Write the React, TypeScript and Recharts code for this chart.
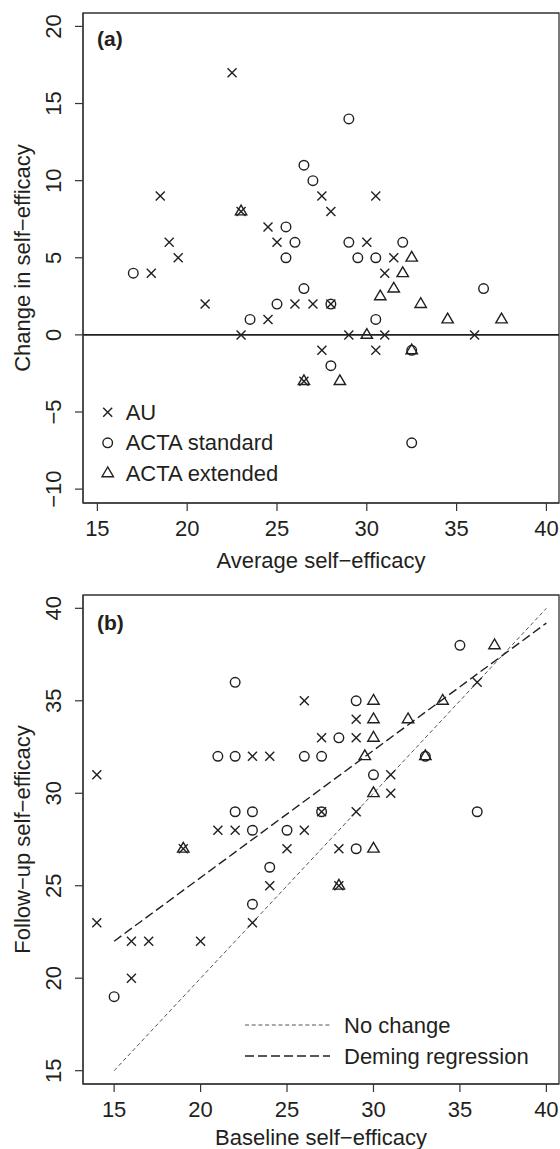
import React from "react";
import { ScatterChart, Scatter, XAxis, YAxis, ReferenceLine, ReferenceArea, Legend } from "recharts";

const FONT = "'Liberation Sans', Arial, Helvetica, sans-serif";
const INK = "#231f20";
const FS = 22;

// panel (a): average vs change in self-efficacy
const auA: [number, number][] = [
  [22.5, 17], [18.5, 9], [23, 8], [19, 6], [19.5, 5], [24.5, 7], [25, 6], [27.5, 9], [28, 8], [30.5, 9],
  [30, 6], [31.5, 5], [18, 4], [21, 2], [24.5, 1], [23, 0], [26, 2], [27, 2], [26.5, -3], [31, 4],
  [28, 2], [29, 0], [31, 0], [36, 0], [27.5, -1], [30.5, -1],
];
const stdA: [number, number][] = [
  [17, 4], [25.5, 7], [26, 6], [25.5, 5], [26.5, 11], [27, 10], [29, 14], [29, 6], [32, 6], [29.5, 5],
  [30.5, 5], [23.5, 1], [25, 2], [26.5, 3], [28, 2], [36.5, 3], [30.5, 1], [28, -2], [32.5, -7], [32.5, -1],
];
const extA: [number, number][] = [
  [23, 8], [32.5, 5], [32, 4], [31.5, 3], [30.75, 2.5], [33, 2], [34.5, 1], [37.5, 1], [30, 0], [28.5, -3],
  [26.5, -3], [32.5, -1],
];

// panel (b): baseline vs follow-up
const auB: [number, number][] = [
  [26, 35], [14, 31], [23, 32], [24, 32], [21, 28], [22, 28], [26, 28], [19, 27], [25, 27], [24, 25],
  [23, 23], [14, 23], [16, 22], [17, 22], [20, 22], [16, 20], [36, 36], [29, 34], [27, 33], [29, 33],
  [31, 31], [31, 30], [27, 29], [29, 29], [28, 27], [28, 25],
];
const stdB: [number, number][] = [
  [22, 36], [21, 32], [22, 32], [26, 32], [22, 29], [23, 29], [23, 28], [25, 28], [24, 26], [23, 24],
  [15, 19], [35, 38], [29, 35], [28, 33], [27, 32], [30, 31], [27, 29], [36, 29], [29, 27], [33, 32],
];
const extB: [number, number][] = [
  [19, 27], [37, 38], [30, 35], [34, 35], [30, 34], [32, 34], [30, 33], [29.5, 32], [33, 32], [30, 30],
  [30, 27], [28, 25],
];
const noChangeLine: [number, number][] = [[15, 15], [40, 40]];
const demingLine: [number, number][] = [[15, 22], [40, 39.2]];

const xTicks = [15, 20, 25, 30, 35, 40];
const yTicksA = [-10, -5, 0, 5, 10, 15, 20];
const yTicksB = [15, 20, 25, 30, 35, 40];
const xDomA: [number, number] = [14.2, 40.7];
const yDomA: [number, number] = [-10.9, 20.87];
const xDomB: [number, number] = [13.2, 40.73];
const yDomB: [number, number] = [14.28, 40.72];

const pts = (arr: [number, number][]) => arr.map(([x, y]) => ({ x, y }));
const fmt = (v: number) => (v < 0 ? "\u2212" + Math.abs(v) : String(v));

const CrossMark = (p: any) => (
  <g stroke={INK} strokeWidth={1.4}>
    <line x1={p.cx - 4.5} y1={p.cy - 4.5} x2={p.cx + 4.5} y2={p.cy + 4.5} />
    <line x1={p.cx - 4.5} y1={p.cy + 4.5} x2={p.cx + 4.5} y2={p.cy - 4.5} />
  </g>
);
const CircleMark = (p: any) => <circle cx={p.cx} cy={p.cy} r={4.8} fill="none" stroke={INK} strokeWidth={1.4} />;
const TriMark = (p: any) => (
  <polygon
    points={`${p.cx},${p.cy - 6.3} ${p.cx - 5.7},${p.cy + 3.4} ${p.cx + 5.7},${p.cy + 3.4}`}
    fill="none"
    stroke={INK}
    strokeWidth={1.4}
  />
);
const NoMark = () => <g />;

const XTick = (p: any) => (
  <text x={p.x} y={p.y + 15} textAnchor="middle" dominantBaseline="central" fontFamily={FONT} fontSize={FS} fill={INK}>
    {fmt(p.payload.value)}
  </text>
);
const YTick = (p: any) => (
  <text
    x={p.x - 19}
    y={p.y}
    transform={`rotate(-90, ${p.x - 19}, ${p.y})`}
    textAnchor="middle"
    dominantBaseline="central"
    fontFamily={FONT}
    fontSize={FS}
    fill={INK}
  >
    {fmt(p.payload.value)}
  </text>
);

const xTitle = (text: string, dy: number) => (p: any) => {
  const vb = p.viewBox;
  return (
    <text x={vb.x + vb.width / 2} y={vb.y + dy} textAnchor="middle" dominantBaseline="central" fontFamily={FONT} fontSize={FS} fill={INK}>
      {text}
    </text>
  );
};
const yTitle = (text: string) => (p: any) => {
  const vb = p.viewBox;
  const cy = vb.y + vb.height / 2;
  return (
    <text x={22} y={cy} transform={`rotate(-90, 22, ${cy})`} textAnchor="middle" dominantBaseline="central" fontFamily={FONT} fontSize={FS} fill={INK}>
      {text}
    </text>
  );
};
const panelTag = (text: string, dy: number) => (p: any) => (
  <text x={p.viewBox.x + 14} y={p.viewBox.y + dy} fontFamily={FONT} fontSize={21} fontWeight="bold" fill={INK}>
    {text}
  </text>
);

const legendA = () => (
  <svg width={210} height={95}>
    {[
      ["AU", CrossMark],
      ["ACTA standard", CircleMark],
      ["ACTA extended", TriMark],
    ].map(([label, Mark]: any, i) => (
      <g key={label}>
        <Mark cx={12.7} cy={17.3 + i * 30.5} />
        <text x={30.7} y={17.3 + i * 30.5} dominantBaseline="central" fontFamily={FONT} fontSize={FS} fill={INK}>
          {label}
        </text>
      </g>
    ))}
  </svg>
);

const legendB = () => (
  <svg width={320} height={65}>
    <line x1={10} y1={15} x2={95} y2={15} stroke="#555" strokeWidth={1} strokeDasharray="4 2.7" />
    <text x={109} y={15} dominantBaseline="central" fontFamily={FONT} fontSize={FS} fill={INK}>No change</text>
    <line x1={10} y1={46} x2={95} y2={46} stroke={INK} strokeWidth={1.4} strokeDasharray="9 4" />
    <text x={109} y={46} dominantBaseline="central" fontFamily={FONT} fontSize={FS} fill={INK}>Deming regression</text>
  </svg>
);

export default function App() {
  const axisStroke = { stroke: "#333", strokeWidth: 1.2 };
  return (
    <div style={{ position: "absolute", left: 0, top: 0, width: 560, height: 1149, background: "#fff" }}>
      <div style={{ position: "absolute", left: 0, top: 0 }}>
        <ScatterChart width={560} height={575} margin={{ top: 13, right: 1, bottom: 32, left: 0 }}>
          <XAxis
            type="number"
            dataKey="x"
            domain={xDomA}
            ticks={xTicks}
            allowDataOverflow
            height={40}
            tickSize={8}
            tickMargin={2}
            axisLine={axisStroke}
            tickLine={axisStroke}
            tick={<XTick />}
            label={xTitle("Average self\u2212efficacy", 57)}
          />
          <YAxis
            type="number"
            dataKey="y"
            domain={yDomA}
            ticks={yTicksA}
            allowDataOverflow
            width={83}
            tickSize={8}
            tickMargin={2}
            axisLine={axisStroke}
            tickLine={axisStroke}
            tick={<YTick />}
            label={yTitle("Change in self\u2212efficacy")}
          />
          <ReferenceArea
            x1={xDomA[0]}
            x2={xDomA[1]}
            y1={yDomA[0]}
            y2={yDomA[1]}
            fill="none"
            fillOpacity={0}
            stroke="#333"
            strokeWidth={1.3}
            label={panelTag("(a)", 33)}
          />
          <ReferenceLine y={0} stroke={INK} strokeWidth={1.8} />
          <Scatter data={pts(auA)} shape={CrossMark} isAnimationActive={false} />
          <Scatter data={pts(stdA)} shape={CircleMark} isAnimationActive={false} />
          <Scatter data={pts(extA)} shape={TriMark} isAnimationActive={false} />
          <Legend
            content={legendA}
            layout="horizontal"
            verticalAlign="middle"
            align="center"
            wrapperStyle={{ left: 95, top: 395, width: 210, height: 95 }}
          />
        </ScatterChart>
      </div>
      <div style={{ position: "absolute", left: 0, top: 575 }}>
        <ScatterChart width={560} height={574} margin={{ top: 20, right: 1, bottom: 25, left: 0 }}>
          <XAxis
            type="number"
            dataKey="x"
            domain={xDomB}
            ticks={xTicks}
            allowDataOverflow
            height={40}
            tickSize={8}
            tickMargin={2}
            axisLine={axisStroke}
            tickLine={axisStroke}
            tick={<XTick />}
            label={xTitle("Baseline self\u2212efficacy", 53)}
          />
          <YAxis
            type="number"
            dataKey="y"
            domain={yDomB}
            ticks={yTicksB}
            allowDataOverflow
            width={83}
            tickSize={8}
            tickMargin={2}
            axisLine={axisStroke}
            tickLine={axisStroke}
            tick={<YTick />}
            label={yTitle("Follow\u2212up self\u2212efficacy")}
          />
          <ReferenceArea
            x1={xDomB[0]}
            x2={xDomB[1]}
            y1={yDomB[0]}
            y2={yDomB[1]}
            fill="none"
            fillOpacity={0}
            stroke="#333"
            strokeWidth={1.3}
            label={panelTag("(b)", 35)}
          />
          <Scatter
            data={pts(noChangeLine)}
            line={{ stroke: "#555", strokeWidth: 1, strokeDasharray: "4 2.7" }}
            shape={NoMark}
            isAnimationActive={false}
          />
          <Scatter
            data={pts(demingLine)}
            line={{ stroke: INK, strokeWidth: 1.4, strokeDasharray: "9 4" }}
            shape={NoMark}
            isAnimationActive={false}
          />
          <Scatter data={pts(auB)} shape={CrossMark} isAnimationActive={false} />
          <Scatter data={pts(stdB)} shape={CircleMark} isAnimationActive={false} />
          <Scatter data={pts(extB)} shape={TriMark} isAnimationActive={false} />
          <Legend
            content={legendB}
            layout="horizontal"
            verticalAlign="middle"
            align="center"
            wrapperStyle={{ left: 235, top: 435, width: 320, height: 65 }}
          />
        </ScatterChart>
      </div>
    </div>
  );
}
